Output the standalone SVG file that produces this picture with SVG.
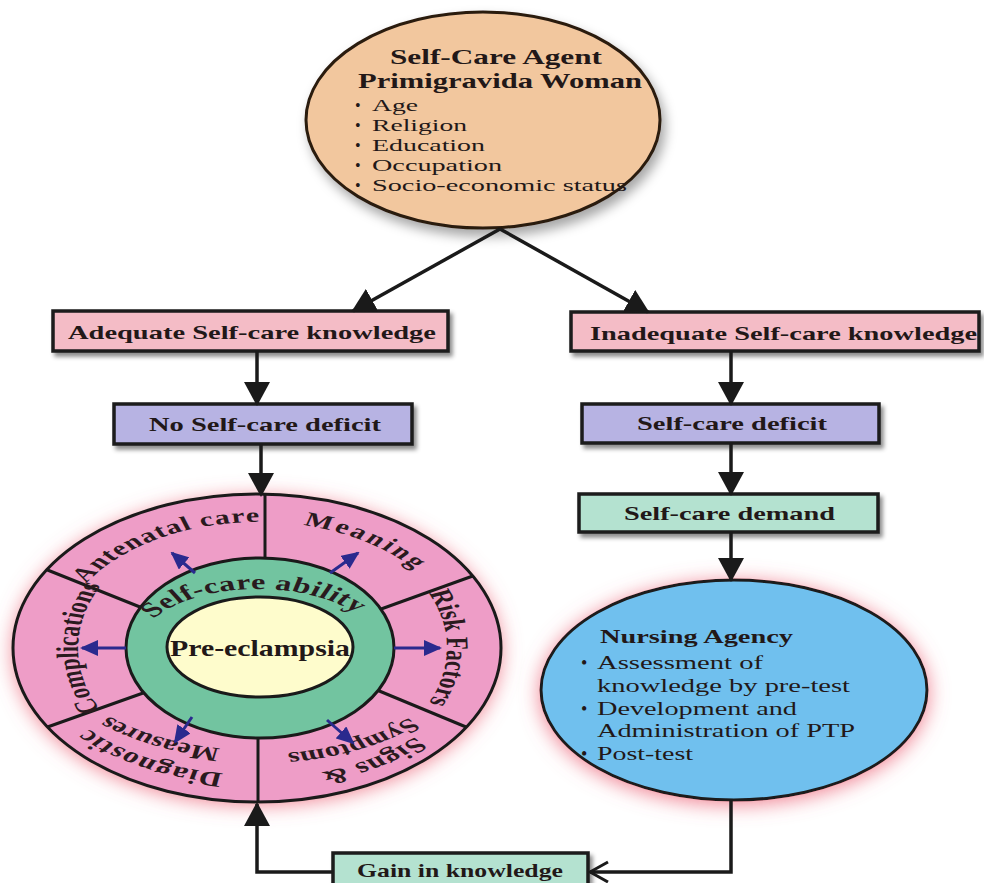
<svg xmlns="http://www.w3.org/2000/svg" width="984" height="883" viewBox="0 0 984 883">
<defs>
<style>
.t{font-family:"Liberation Serif","Times New Roman",serif;fill:#221818}
.b{font-weight:bold}
.box{stroke:#1a1a1a;stroke-width:3.5;filter:url(#sh)}
.conn{stroke:#1a1a1a;stroke-width:3.5;fill:none}
.blue{stroke:#2a2a8e;stroke-width:3;fill:none;marker-end:url(#ba)}
.ring{stroke:#1a1a1a;stroke-width:3}
.div{stroke:#1a1a1a;stroke-width:3}
.wt{font-family:"Liberation Serif","Times New Roman",serif;fill:#2a1a1e;font-weight:bold}
</style>
<filter id="sh" x="-10%" y="-30%" width="125%" height="170%"><feDropShadow dx="3" dy="4" stdDeviation="2" flood-color="#000" flood-opacity="0.45"/></filter>
<filter id="shTop" x="-15%" y="-15%" width="135%" height="140%"><feDropShadow dx="4" dy="7" stdDeviation="6" flood-color="#000" flood-opacity="0.35"/></filter>
<filter id="glow" x="-20%" y="-25%" width="140%" height="150%"><feDropShadow dx="0" dy="3" stdDeviation="10" flood-color="#ec6276" flood-opacity="0.8"/></filter>
<marker id="ah" markerUnits="userSpaceOnUse" viewBox="0 0 24 26" markerWidth="24" markerHeight="26" refX="22" refY="13" orient="auto"><path d="M0 0 L24 13 L0 26 z" fill="#1a1a1a"/></marker>
<marker id="open" markerUnits="userSpaceOnUse" viewBox="0 0 22 24" markerWidth="22" markerHeight="24" refX="20" refY="12" orient="auto"><path d="M2 2 L20 12 L2 22" fill="none" stroke="#1a1a1a" stroke-width="3"/></marker>
<marker id="ba" markerUnits="userSpaceOnUse" viewBox="0 0 18 16" markerWidth="18" markerHeight="16" refX="16" refY="8" orient="auto"><path d="M0 0 L18 8 L0 16 z" fill="#2a2a8e"/></marker>
<clipPath id="outerClip"><ellipse cx="257" cy="648" rx="244" ry="154"/></clipPath>
<path id="pAnte" d="M 142.5 585 A 133.3 126 0 0 1 303.6 529.6"/>
<path id="pMean" d="M 288 525.2 A 133.3 126 0 0 1 386.8 615.4"/>
<path id="pRisk" d="M 361.2 574.6 A 126 128 0 0 1 361.2 721.4"/>
<path id="pComp" d="M 159.7 721.4 A 120 128 0 0 1 159.7 574.6"/>
<path id="pDiag" d="M 245.2 774.5 A 146.7 127 0 0 1 137.8 720.8"/>
<path id="pMeas" d="M 246.4 749.6 A 133.3 102 0 0 1 148.8 706.5"/>
<path id="pSymp" d="M 365.9 710.3 A 133.3 106 0 0 1 267.3 753.7"/>
<path id="pSign" d="M 378.2 718.8 A 143.3 130 0 0 1 275.5 777.0"/>
<path id="pAbil" d="M 185.5 623.1 A 80 59 0 0 1 326.6 617.6"/>
</defs>
<rect width="984" height="883" fill="#ffffff"/>

<g id="agent">
<ellipse cx="483" cy="120" rx="177" ry="108" fill="#f2c79e" stroke="#2a1a10" stroke-width="3" filter="url(#shTop)"/>
<text class="t b" x="390" y="64" font-size="22" textLength="212" lengthAdjust="spacingAndGlyphs">Self-Care Agent</text>
<text class="t b" x="358" y="88" font-size="22" textLength="284" lengthAdjust="spacingAndGlyphs">Primigravida Woman</text>
<g class="t" font-size="16">
<text x="355" y="111">•</text><text x="372" y="111" textLength="46" lengthAdjust="spacingAndGlyphs">Age</text>
<text x="355" y="131">•</text><text x="372" y="131" textLength="95" lengthAdjust="spacingAndGlyphs">Religion</text>
<text x="355" y="151">•</text><text x="372" y="151" textLength="113" lengthAdjust="spacingAndGlyphs">Education</text>
<text x="355" y="171">•</text><text x="372" y="171" textLength="130" lengthAdjust="spacingAndGlyphs">Occupation</text>
<text x="355" y="191">•</text><text x="372" y="191" textLength="255" lengthAdjust="spacingAndGlyphs">Socio-economic status</text>
</g>
</g>

<g id="adequate">
<rect class="box" x="53" y="311" width="395" height="40" fill="#f4bcc6"/>
<text class="t b" x="68" y="339" font-size="19" textLength="368" lengthAdjust="spacingAndGlyphs">Adequate Self-care knowledge</text>
</g>
<g id="no-deficit">
<rect class="box" x="114" y="404" width="298" height="40" fill="#b7b3e3"/>
<text class="t b" x="149" y="431" font-size="19" textLength="232" lengthAdjust="spacingAndGlyphs">No Self-care deficit</text>
</g>
<g id="inadequate">
<rect class="box" x="571" y="312" width="408" height="39" fill="#f4bcc6"/>
<text class="t b" x="590" y="340" font-size="19" textLength="387" lengthAdjust="spacingAndGlyphs">Inadequate Self-care knowledge</text>
</g>
<g id="deficit">
<rect class="box" x="582" y="404" width="297" height="39" fill="#b7b3e3"/>
<text class="t b" x="637" y="430" font-size="19" textLength="190" lengthAdjust="spacingAndGlyphs">Self-care deficit</text>
</g>
<g id="demand">
<rect class="box" x="579" y="494" width="299" height="38" fill="#b4e2d0"/>
<text class="t b" x="624" y="520" font-size="19" textLength="211" lengthAdjust="spacingAndGlyphs">Self-care demand</text>
</g>

<g id="wheel">
<ellipse cx="257" cy="648" rx="244" ry="154" fill="#ee9dc7" filter="url(#glow)"/>
<g clip-path="url(#outerClip)">
<line class="div" x1="265" y1="575" x2="265" y2="480"/>
<line class="div" x1="258" y1="720" x2="258" y2="815"/>
<line class="div" x1="160" y1="615" x2="25" y2="561"/>
<line class="div" x1="160" y1="687" x2="25" y2="735"/>
<line class="div" x1="370" y1="613" x2="495" y2="568"/>
<line class="div" x1="360" y1="683" x2="495" y2="739"/>
</g>
<ellipse cx="257" cy="648" rx="244" ry="154" fill="none" stroke="#1a1a1a" stroke-width="3"/>
<ellipse class="ring" cx="260" cy="648" rx="134" ry="90" fill="#72c4a0"/>
<ellipse class="ring" cx="260" cy="647" rx="93" ry="50" fill="#fefccc"/>
<g id="sectors">
<text class="wt" font-size="20" letter-spacing="0.8" transform="matrix(1.5 0 0 1 -129 0)"><textPath href="#pAnte" startOffset="2">Antenatal care</textPath></text>
<text class="wt" font-size="20" letter-spacing="2" transform="matrix(1.5 0 0 1 -129 0)"><textPath href="#pMean">Meaning</textPath></text>
<text class="wt" font-size="21" text-anchor="middle" transform="matrix(1.5 0 0 1 -129 0)"><textPath href="#pRisk" startOffset="50%">Risk Factors</textPath></text>
<text class="wt" font-size="21" font-weight="normal" text-anchor="middle" transform="matrix(1.5 0 0 1 -129 0)"><textPath href="#pComp" startOffset="50%">Complications</textPath></text>
<text class="wt" font-size="21" letter-spacing="0.8" text-anchor="middle" transform="matrix(1.5 0 0 1 -129 0)"><textPath href="#pDiag" startOffset="50%">Diagnostic</textPath></text>
<text class="wt" font-size="20" text-anchor="middle" transform="matrix(1.5 0 0 1 -129 0)"><textPath href="#pMeas" startOffset="50%">Measures</textPath></text>
<text class="wt" font-size="21" letter-spacing="0.5" text-anchor="middle" transform="matrix(1.5 0 0 1 -129 0)"><textPath href="#pSign" startOffset="50%">Signs &amp;</textPath></text>
<text class="wt" font-size="20" text-anchor="middle" transform="matrix(1.5 0 0 1 -129 0)"><textPath href="#pSymp" startOffset="50%">Symptoms</textPath></text>
</g>
<g id="ability">
<text class="wt" font-size="21.5" letter-spacing="0.3" text-anchor="middle" fill="#1d2a20" transform="matrix(1.5 0 0 1 -129 0)"><textPath href="#pAbil" startOffset="50%">Self-care ability</textPath></text>
</g>
<g id="preeclampsia">
<text class="t b" x="170" y="656" font-size="23" textLength="180" lengthAdjust="spacingAndGlyphs">Pre-eclampsia</text>
</g>
<g id="ability-arrows">
<line class="blue" x1="195" y1="573" x2="172" y2="553"/>
<line class="blue" x1="330" y1="573" x2="358" y2="553"/>
<line class="blue" x1="394" y1="648" x2="440" y2="648"/>
<line class="blue" x1="126" y1="648" x2="82" y2="648"/>
<line class="blue" x1="192" y1="717" x2="175" y2="742"/>
<line class="blue" x1="327" y1="720" x2="353" y2="743"/>
</g>
</g>

<g id="nursing">
<ellipse cx="734" cy="690" rx="193" ry="110" fill="#6fc0ee" stroke="#1a1a1a" stroke-width="3" filter="url(#glow)"/>
<text class="t b" x="600" y="643" font-size="18" fill="#1c1c2c" textLength="193" lengthAdjust="spacingAndGlyphs">Nursing Agency</text>
<g class="t" font-size="18" fill="#1c1c2c">
<text x="581" y="669">•</text><text x="597" y="669" textLength="166" lengthAdjust="spacingAndGlyphs">Assessment of</text>
<text x="597" y="692" textLength="253" lengthAdjust="spacingAndGlyphs">knowledge by pre-test</text>
<text x="581" y="715">•</text><text x="597" y="715" textLength="200" lengthAdjust="spacingAndGlyphs">Development and</text>
<text x="597" y="737" textLength="258" lengthAdjust="spacingAndGlyphs">Administration of PTP</text>
<text x="581" y="760">•</text><text x="597" y="760" textLength="96" lengthAdjust="spacingAndGlyphs">Post-test</text>
</g>
</g>

<g id="gain">
<rect class="box" x="333" y="853" width="255" height="45" fill="#b4e2d0"/>
<text class="t b" x="357" y="877" font-size="19" textLength="206" lengthAdjust="spacingAndGlyphs">Gain in knowledge</text>
</g>

<g id="connectors">
<path class="conn" d="M 500 229 L 353 311" marker-end="url(#ah)"/>
<path class="conn" d="M 500 229 L 648 312" marker-end="url(#ah)"/>
<path class="conn" d="M 257 351 L 257 404" marker-end="url(#ah)"/>
<path class="conn" d="M 261 444 L 261 495" marker-end="url(#ah)"/>
<path class="conn" d="M 731 351 L 731 404" marker-end="url(#ah)"/>
<path class="conn" d="M 731 443 L 731 494" marker-end="url(#ah)"/>
<path class="conn" d="M 731 532 L 731 580" marker-end="url(#ah)"/>
<path class="conn" d="M 731 800 L 731 872 L 590 872" marker-end="url(#open)"/>
<path class="conn" d="M 333 872 L 257 872 L 257 804" marker-end="url(#ah)"/>
</g>
</svg>
